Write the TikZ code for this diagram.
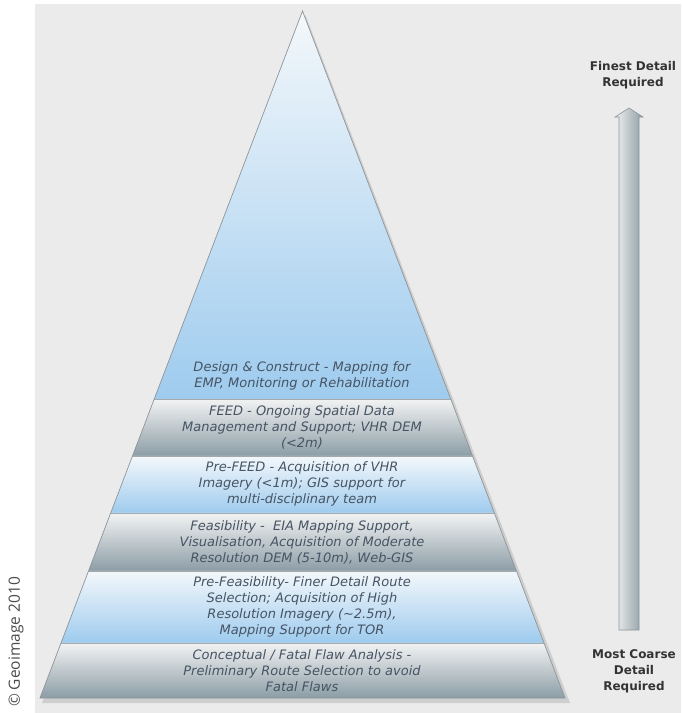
\documentclass[tikz,border=0pt]{standalone}
\usepackage{fontspec}
\setmainfont{DejaVu Sans}
\newfontfamily\copyfont{Open Sans}
\usetikzlibrary{calc}
\definecolor{panel}{HTML}{EBEBEB}
\definecolor{txt}{HTML}{465464}
\definecolor{bluelo}{HTML}{9ECBEE}
\definecolor{bluehi}{HTML}{F4F8FB}
\definecolor{graylo}{HTML}{8C9DA6}
\definecolor{grayhi}{HTML}{F2F3F3}
\definecolor{edge}{HTML}{8E9498}

\tikzset{
  blueband/.style={top color=bluehi, bottom color=bluelo},
  grayband/.style={top color=grayhi, bottom color=graylo},
  lvl/.style={text=txt, align=center, font=\itshape\fontsize{13}{16}\selectfont},
  tag/.style={text=black!80, align=center, font=\bfseries\fontsize{12}{16}\selectfont},
}

\begin{document}
\begin{tikzpicture}[x=1pt,y=-1pt]
        \useasboundingbox (0,0) rectangle (681,713);
        \fill[white] (0,0) rectangle (681,713);
        \fill[panel] (35,4) rectangle (681,713);

        \coordinate (apex) at (302.5,11);
        \coordinate (bl) at (40,698);
        \coordinate (br) at (565,698);

        %shadow
        \fill[black!30, opacity=0.5] ($(apex)+(3,4)$) -- ($(br)+(5,5)$) -- ($(bl)+(2,5)$) -- cycle;

        %levels
        \shade[top color=bluehi, bottom color=bluelo] (apex) -- ($(apex)!0.5648!(br)$) -- ($(apex)!0.5648!(bl)$) -- cycle;
        \shade[grayband] ($(apex)!0.5648!(bl)$) -- ($(apex)!0.5648!(br)$) -- ($(apex)!0.6477!(br)$) -- ($(apex)!0.6477!(bl)$) -- cycle;
        \shade[blueband] ($(apex)!0.6477!(bl)$) -- ($(apex)!0.6477!(br)$) -- ($(apex)!0.7307!(br)$) -- ($(apex)!0.7307!(bl)$) -- cycle;
        \shade[grayband] ($(apex)!0.7307!(bl)$) -- ($(apex)!0.7307!(br)$) -- ($(apex)!0.8151!(br)$) -- ($(apex)!0.8151!(bl)$) -- cycle;
        \shade[blueband] ($(apex)!0.8151!(bl)$) -- ($(apex)!0.8151!(br)$) -- ($(apex)!0.9199!(br)$) -- ($(apex)!0.9199!(bl)$) -- cycle;
        \shade[grayband] ($(apex)!0.9199!(bl)$) -- ($(apex)!0.9199!(br)$) -- (br) -- (bl) -- cycle;

        \foreach \t in {0.5648,0.6477,0.7307,0.8151,0.9199}
            \draw[edge!80, line width=0.6] ($(apex)!\t!(bl)$) -- ($(apex)!\t!(br)$);
        \draw[edge, line width=0.7] (apex) -- (br) -- (bl) -- cycle;

        %texts
        \node[lvl] (design) at (302,376) {Design \& Construct - Mapping for\\EMP, Monitoring or Rehabilitation};
        \node[lvl] (feed) at (302,427) {FEED - Ongoing Spatial Data\\Management and Support; VHR DEM\\(<2m)};
        \node[lvl] (prefeed) at (302,484) {Pre-FEED - Acquisition of VHR\\Imagery (<1m); GIS support for\\multi-disciplinary team};
        \node[lvl] (feas) at (302,542) {Feasibility -\ \ EIA Mapping Support,\\Visualisation, Acquisition of Moderate\\Resolution DEM (5-10m), Web-GIS};
        \node[lvl] (prefeas) at (302,607) {Pre-Feasibility- Finer Detail Route\\Selection; Acquisition of High\\Resolution Imagery (\textasciitilde2.5m),\\Mapping Support for TOR};
        \node[lvl] (concept) at (302,671) {Conceptual / Fatal Flaw Analysis -\\Preliminary Route Selection to avoid\\Fatal Flaws};

        %arrow
        \shade[left color=black!6, right color=graylo, draw=edge, line width=0.6]
            (619,630) -- (619,117) -- (615,117) -- (629,108) -- (643,117) -- (639,117) -- (639,630) -- cycle;
        \node[tag] (finest) at (633,75) {Finest Detail\\Required};
        \node[tag] (coarse) at (634,671) {Most Coarse\\Detail\\Required};

        \node[rotate=90, text=black!70, font=\copyfont\fontsize{15.5}{16}\selectfont] (copy) at (16,642) {© Geoimage 2010};
\end{tikzpicture}
\end{document}
